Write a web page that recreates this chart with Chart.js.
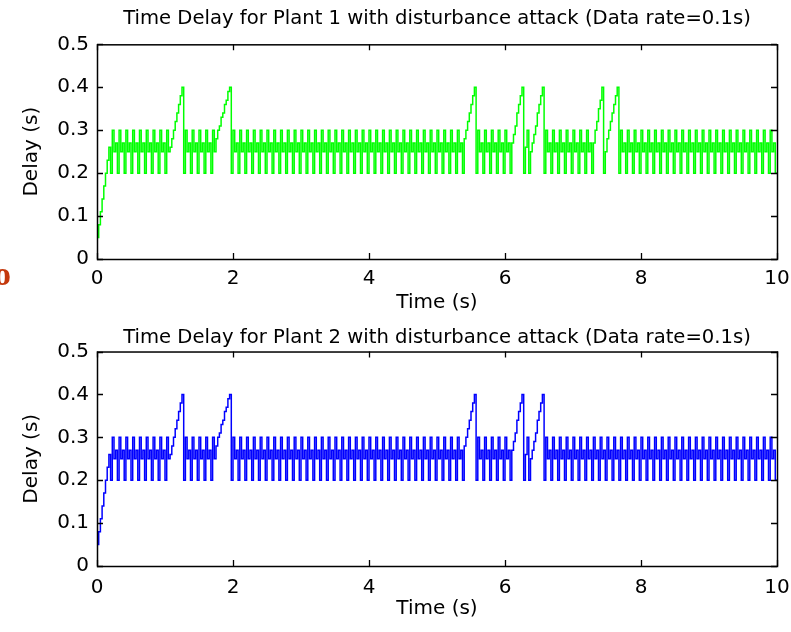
<!DOCTYPE html>
<html>
<head>
<meta charset="utf-8">
<title>Time Delay with disturbance attack</title>
<script src="https://cdn.jsdelivr.net/npm/chart.js@4.4.1/dist/chart.umd.min.js"></script>
<style>
  html, body { margin: 0; padding: 0; background: #fff; }
  #page { position: relative; width: 791px; height: 632px; overflow: hidden; }
  canvas { position: absolute; left: 0; }
  #plant1Chart { top: 0; }
  #plant2Chart { top: 316px; }
  .edge-mark { position: absolute; left: -6px; top: 255px; font: bold 34px "Liberation Serif", serif; color: #c4380c; }
</style>
</head>
<body>
<div id="page">
  <canvas id="plant1Chart" width="791" height="316"></canvas>
  <canvas id="plant2Chart" width="791" height="316"></canvas>
  <span class="edge-mark">o</span>
</div>
<script>
// delay samples every 0.025 s, in hundredths of a second (one row = one second)
const sampleStep = 0.025;

const plant1Delay = [
  2,5,8,11,14,17,20,23,26,20, 30,25,27,20,30,25,27,20,30,25, 27,20,30,25,27,20,30,25,27,20, 30,25,27,20,30,25,27,20,30,25,
  27,20,30,25, 26,28,30,32,34,36,38,40, 20,30,25,27,20,30,25,27,20,30,25,27,20,30,25,27,20,30,25, 28,30,31,33,34,36,37,39,40,
  20,30,25,27,20,30,25,27,20,30,25,27,20,30,25,27,20,30,25,27, 20,30,25,27,20,30,25,27,20,30,25,27,20,30,25,27,20,30,25,27,
  20,30,25,27,20,30,25,27,20,30,25,27,20,30,25,27,20,30,25,27, 20,30,25,27,20,30,25,27,20,30,25,27,20,30,25,27,20,30,25,27,
  20,30,25,27,20,30,25,27,20,30,25,27,20,30,25,27,20,30,25,27, 20,30,25,27,20,30,25,27,20,30,25,27,20,30,25,27,20,30,25,27,
  20,30,25,27,20,30,25,27,20,30,25,27,20,30,25,27,20, 28,30,32,34,36,38,40, 20,30,25,27,20,30,25,27,20,30,25,27,20,30,25,27,
  20,30,25,27,20, 27,29,31,34,36,38,40, 20,26,30,20, 25,27,29,31,34,36,38,40, 20,30,25,27,20,30,25,27,20,30,25,27,20,30,25,27,
  20,30,25,27,20,30,25,27,20,30,25,27, 20,27,30,32,35,37,40, 20,25,28,30,32,34,36,38,40, 20,30,25,27,20,30,25,27,20,30,25,27,
  20,30,25,27,20,30,25,27,20,30,25,27,20,30,25,27,20,30,25,27, 20,30,25,27,20,30,25,27,20,30,25,27,20,30,25,27,20,30,25,27,
  20,30,25,27,20,30,25,27,20,30,25,27,20,30,25,27,20,30,25,27, 20,30,25,27,20,30,25,27,20,30,25,27,20,30,25,27,20,30,25,27,
  20
];

const plant2Delay = [
  2,5,8,11,14,17,20,23,26,20, 30,25,27,20,30,25,27,20,30,25, 27,20,30,25,27,20,30,25,27,20, 30,25,27,20,30,25,27,20,30,25,
  27,20,30,25, 26,28,30,32,34,36,38,40, 20,30,25,27,20,30,25,27,20,30,25,27,20,30,25,27,20,30,25, 28,30,31,33,34,36,37,39,40,
  20,30,25,27,20,30,25,27,20,30,25,27,20,30,25,27,20,30,25,27, 20,30,25,27,20,30,25,27,20,30,25,27,20,30,25,27,20,30,25,27,
  20,30,25,27,20,30,25,27,20,30,25,27,20,30,25,27,20,30,25,27, 20,30,25,27,20,30,25,27,20,30,25,27,20,30,25,27,20,30,25,27,
  20,30,25,27,20,30,25,27,20,30,25,27,20,30,25,27,20,30,25,27, 20,30,25,27,20,30,25,27,20,30,25,27,20,30,25,27,20,30,25,27,
  20,30,25,27,20,30,25,27,20,30,25,27,20,30,25,27,20, 28,30,32,34,36,38,40, 20,30,25,27,20,30,25,27,20,30,25,27,20,30,25,27,
  20,30,25,27,20, 27,29,31,34,36,38,40, 20,26,30,20, 25,27,29,31,34,36,38,40, 20,30,25,27,20,30,25,27,20,30,25,27,20,30,25,27,
  20,30,25,27,20,30,25,27,20,30,25,27,20,30,25,27,20,30,25,27, 20,30,25,27,20,30,25,27,20,30,25,27,20,30,25,27,20,30,25,27,
  20,30,25,27,20,30,25,27,20,30,25,27,20,30,25,27,20,30,25,27, 20,30,25,27,20,30,25,27,20,30,25,27,20,30,25,27,20,30,25,27,
  20,30,25,27,20,30,25,27,20,30,25,27,20,30,25,27,20,30,25,27, 20,30,25,27,20,30,25,27,20,30,25,27,20,30,25,27,20,30,25,27,
  20
];

const timeTicks = [0, 2, 4, 6, 8, 10];
const delayTicks = [0, 0.1, 0.2, 0.3, 0.4, 0.5];

const FONT = { family: '"DejaVu Sans", Verdana, sans-serif', size: 20, weight: 'normal' };
const TITLE_FONT = { family: '"DejaVu Sans", Verdana, sans-serif', size: 19.6, weight: 'normal' };
const TICK_LEN = 6;

function toPoints(delays) {
  return delays.map((v, i) => ({ x: i * sampleStep, y: v / 100 }));
}

// MATLAB style: boxed axes with ticks pointing inward
const matlabAxes = {
  id: 'matlabAxes',
  afterDatasetsDraw(chart) {
    const { ctx, chartArea: a, scales: { x, y } } = chart;
    ctx.save();
    ctx.strokeStyle = '#000';
    ctx.lineWidth = 1.3;
    ctx.beginPath();
    x.ticks.forEach(t => {
      const px = Math.round(x.getPixelForValue(t.value)) + 0.5;
      ctx.moveTo(px, a.top); ctx.lineTo(px, a.top + TICK_LEN);
      ctx.moveTo(px, a.bottom); ctx.lineTo(px, a.bottom - TICK_LEN);
    });
    y.ticks.forEach(t => {
      const py = Math.round(y.getPixelForValue(t.value)) + 0.5;
      ctx.moveTo(a.left, py); ctx.lineTo(a.left + TICK_LEN, py);
      ctx.moveTo(a.right, py); ctx.lineTo(a.right - TICK_LEN, py);
    });
    ctx.stroke();
    ctx.lineWidth = 1.5;
    ctx.strokeRect(a.left + 0.5, a.top + 0.5, a.right - a.left, a.bottom - a.top);
    ctx.restore();
  }
};

function makeChart(id, delays, color, cfg) {
  return new Chart(document.getElementById(id), {
    type: 'line',
    data: {
      datasets: [{
        data: toPoints(delays),
        borderColor: color,
        borderWidth: 1.5,
        pointRadius: 0,
        stepped: 'after'
      }]
    },
    options: {
      responsive: false,
      animation: false,
      events: [],
      layout: { padding: { left: 0, right: 14, top: 0, bottom: 0 } },
      plugins: {
        legend: { display: false },
        tooltip: { enabled: false },
        title: {
          display: true,
          text: cfg.title,
          fullSize: false,
          color: '#000',
          font: TITLE_FONT,
          padding: { top: cfg.titleTop, bottom: cfg.titleBottom }
        }
      },
      scales: {
        x: {
          type: 'linear',
          min: 0, max: 10,
          afterBuildTicks: s => { s.ticks = timeTicks.map(v => ({ value: v })); },
          afterFit: s => { s.height = cfg.xHeight; },
          // tickLength only offsets the labels; the marks themselves are drawn by matlabAxes
          grid: { display: false, drawTicks: true, tickLength: cfg.xTickGap },
          border: { display: false },
          ticks: { color: '#000', font: FONT, padding: 0, maxRotation: 0 },
          title: { display: true, text: 'Time (s)', color: '#000', font: FONT, padding: { top: 0, bottom: cfg.xTitleBottom } }
        },
        y: {
          type: 'linear',
          min: 0, max: 0.5,
          afterBuildTicks: s => { s.ticks = delayTicks.map(v => ({ value: v })); },
          afterFit: s => { s.width = 97; },
          grid: { display: false, drawTicks: true, tickLength: 8 },
          border: { display: false },
          ticks: { color: '#000', font: FONT, padding: 0 },
          title: { display: true, text: 'Delay (s)', color: '#000', font: FONT, padding: { top: 20, bottom: 0 } }
        }
      }
    },
    plugins: [matlabAxes]
  });
}

makeChart('plant1Chart', plant1Delay, '#00ff00', {
  title: 'Time Delay for Plant 1 with disturbance attack (Data rate=0.1s)',
  titleTop: 7, titleBottom: 13.8, xHeight: 57, xTickGap: 7.5, xTitleBottom: 1.4
});
makeChart('plant2Chart', plant2Delay, '#0000ff', {
  title: 'Time Delay for Plant 2 with disturbance attack (Data rate=0.1s)',
  titleTop: 10, titleBottom: 2, xHeight: 66, xTickGap: 10, xTitleBottom: 11.4
});
</script>
</body>
</html>
